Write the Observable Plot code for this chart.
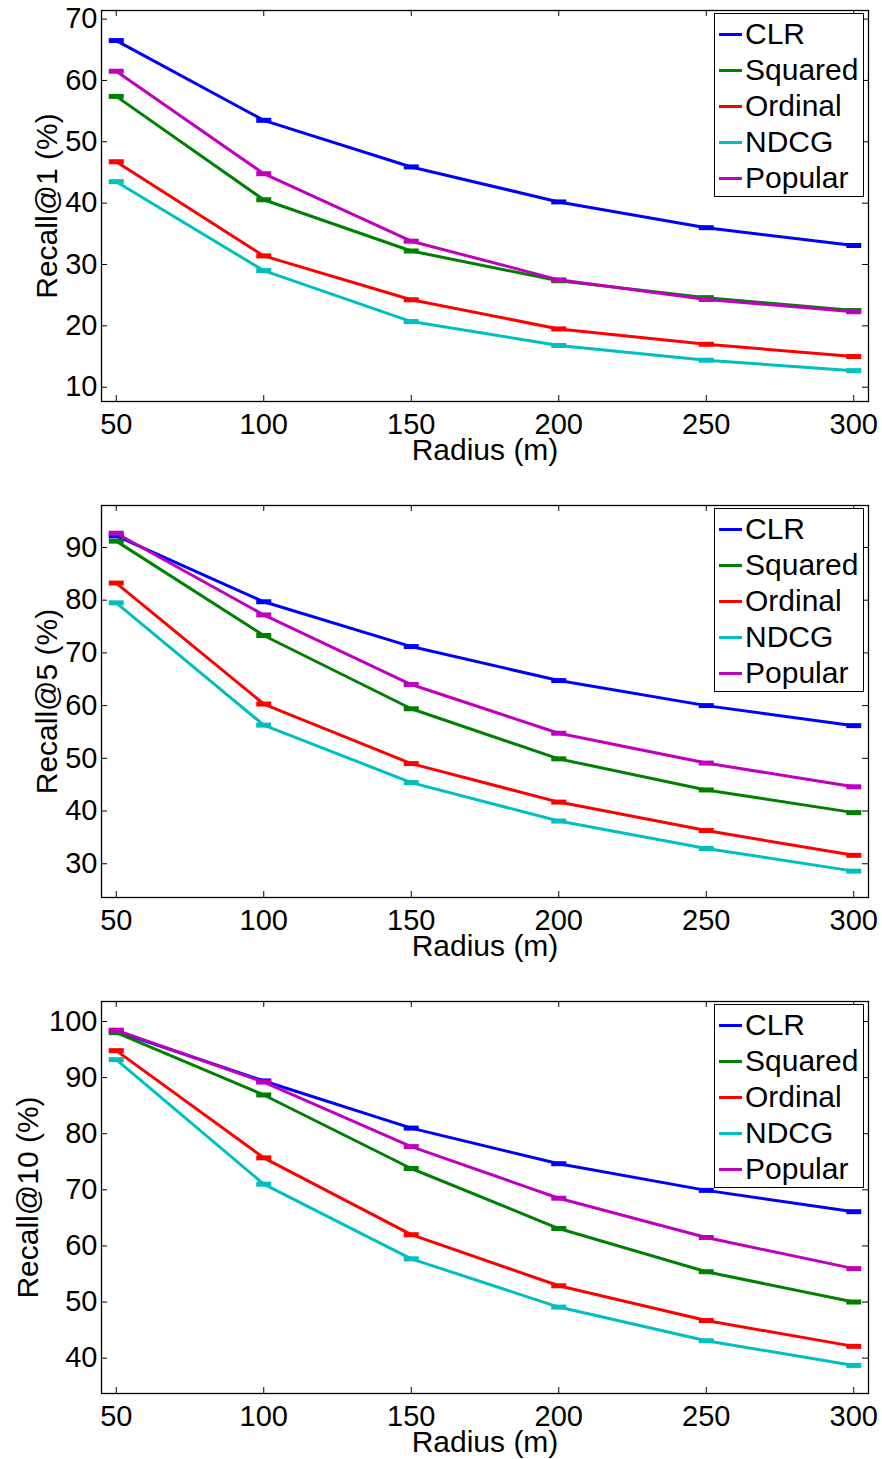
<!DOCTYPE html>
<html><head><meta charset="utf-8">
<script src="https://cdn.jsdelivr.net/npm/d3@7"></script>
<script src="https://cdn.jsdelivr.net/npm/@observablehq/plot@0.6"></script>
<style>
body{margin:0;background:#fff;font-family:"Liberation Sans",Arial,sans-serif;}
.panel{position:relative;width:882px;}
.panel svg{display:block;}
.legend{position:absolute;left:714px;width:148px;height:182px;border:1.3px solid #000;background:#fff;}
.row{display:flex;align-items:center;height:36px;font-size:30px;line-height:36px;color:#000;}
.row:first-child{margin-top:2px;}
.sw{width:23px;height:3px;margin-left:4px;margin-right:3px;flex:none;}
</style></head><body><div id="root"></div>
<script>
const radius = [50, 100, 150, 200, 250, 300];
const xTicks = [50, 100, 150, 200, 250, 300];
const seriesNames = ["CLR", "Squared", "Ordinal", "NDCG", "Popular"];
const seriesColors = ["#0000ff", "#008000", "#ff0000", "#00bfbf", "#bf00bf"];

// Recall@1 (%)
const clr1     = [66.5, 53.5, 45.9, 40.2, 36.0, 33.1];
const squared1 = [57.4, 40.55, 32.2, 27.35, 24.6, 22.5];
const ordinal1 = [46.75, 31.4, 24.25, 19.5, 17.0, 15.0];
const ndcg1    = [43.5, 29.0, 20.7, 16.8, 14.4, 12.7];
const popular1 = [61.5, 44.8, 33.8, 27.5, 24.3, 22.3];
const yTicks1  = [10, 20, 30, 40, 50, 60, 70];

// Recall@5 (%)
const clr5     = [92.2, 79.7, 71.2, 64.75, 60.0, 56.2];
const squared5 = [91.2, 73.3, 59.4, 49.9, 44.0, 39.7];
const ordinal5 = [83.25, 60.3, 49.0, 41.7, 36.3, 31.6];
const ndcg5    = [79.5, 56.3, 45.4, 38.1, 32.9, 28.6];
const popular5 = [92.7, 77.2, 64.0, 54.76, 49.1, 44.6];
const yTicks5  = [30, 40, 50, 60, 70, 80, 90];

// Recall@10 (%)
const clr10     = [98.25, 89.4, 81.0, 74.65, 69.9, 66.1];
const squared10 = [98.0, 86.9, 73.8, 63.1, 55.4, 50.0];
const ordinal10 = [94.8, 75.7, 62.0, 52.9, 46.7, 42.1];
const ndcg10    = [93.2, 71.0, 57.7, 49.1, 43.1, 38.7];
const popular10 = [98.45, 89.2, 77.7, 68.5, 61.5, 55.95];
const yTicks10  = [40, 50, 60, 70, 80, 90, 100];

const panels = [
  {label: "Recall@1 (%)", series: [clr1, squared1, ordinal1, ndcg1, popular1], yTicks: yTicks1, yDomain: [7.67, 71.4], height: 495, marginBottom: 94, labelDx: -54},
  {label: "Recall@5 (%)", series: [clr5, squared5, ordinal5, ndcg5, popular5], yTicks: yTicks5, yDomain: [23.6, 97.96], height: 496, marginBottom: 94, labelDx: -54},
  {label: "Recall@10 (%)", series: [clr10, squared10, ordinal10, ndcg10, popular10], yTicks: yTicks10, yDomain: [33.7, 103.56], height: 468, marginBottom: 66, labelDx: -73}
];

const capSymbol = {draw(ctx) { ctx.rect(-7.5, -2.5, 15, 5); }};
const W = 882, ML = 101, MR = 14, MT = 10;
const FW = W - ML - MR;
const root = document.getElementById("root");

for (const p of panels) {
  const FH = p.height - MT - p.marginBottom;
  const marks = [
    Plot.ruleX(xTicks, {x: d => d, insetBottom: FH - 6, stroke: "#000", strokeWidth: 1}),
    Plot.ruleX(xTicks, {x: d => d, insetTop: FH - 6, stroke: "#000", strokeWidth: 1}),
    Plot.ruleY(p.yTicks, {y: d => d, insetRight: FW - 6, stroke: "#000", strokeWidth: 1}),
    Plot.ruleY(p.yTicks, {y: d => d, insetLeft: FW - 6, stroke: "#000", strokeWidth: 1})
  ];
  p.series.forEach((vals, i) => {
    const rows = radius.map((r, j) => ({r, v: vals[j]}));
    marks.push(Plot.line(rows, {x: "r", y: "v", stroke: seriesColors[i], strokeWidth: 3}));
    marks.push(Plot.dot(rows, {x: "r", y: "v", symbol: capSymbol, fill: seriesColors[i], stroke: "none"}));
  });
  marks.push(
    Plot.frame({stroke: "#000", strokeWidth: 1.3}),
    Plot.text(xTicks, {x: d => d, text: d => String(d), frameAnchor: "bottom", dy: 12, lineAnchor: "top", fontSize: 29}),
    Plot.text(p.yTicks, {y: d => d, text: d => String(d), frameAnchor: "left", dx: -4, textAnchor: "end", fontSize: 29}),
    Plot.text([p.label], {text: d => d, frameAnchor: "left", dx: p.labelDx, textAnchor: "middle", lineAnchor: "middle", rotate: -90, fontSize: 30}),
    Plot.text(["Radius (m)"], {text: d => d, frameAnchor: "bottom", dy: 37, textAnchor: "middle", lineAnchor: "top", fontSize: 30})
  );
  const chart = Plot.plot({
    width: W, height: p.height,
    marginLeft: ML, marginRight: MR, marginTop: MT, marginBottom: p.marginBottom,
    x: {domain: [45, 305], axis: null},
    y: {domain: p.yDomain, axis: null},
    style: {fontFamily: "'Liberation Sans', Arial, sans-serif", color: "#000", background: "#fff", overflow: "visible"},
    marks
  });
  const div = document.createElement("div");
  div.className = "panel";
  div.appendChild(chart);
  const leg = document.createElement("div");
  leg.className = "legend";
  leg.style.top = (MT + 3) + "px";
  seriesNames.forEach((n, i) => {
    const row = document.createElement("div");
    row.className = "row";
    const sw = document.createElement("span");
    sw.className = "sw";
    sw.style.background = seriesColors[i];
    const t = document.createElement("span");
    t.textContent = n;
    row.appendChild(sw); row.appendChild(t);
    leg.appendChild(row);
  });
  div.appendChild(leg);
  root.appendChild(div);
}
</script></body></html>
